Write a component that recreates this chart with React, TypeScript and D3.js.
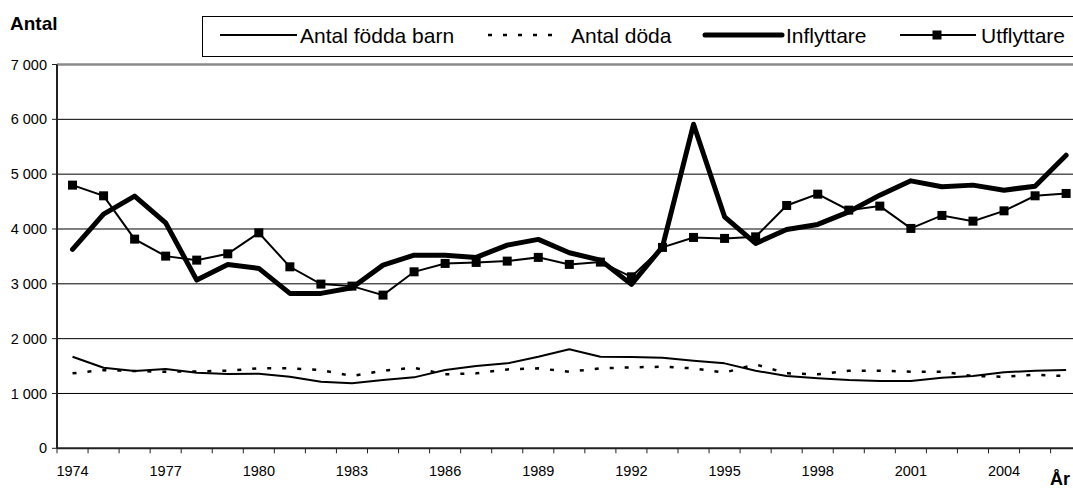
import React, { useEffect } from "react";
import * as d3 from "d3";

const years: number[] = d3.range(1974, 2007);
const tickYears: number[] = [1974, 1977, 1980, 1983, 1986, 1989, 1992, 1995, 1998, 2001, 2004];
const yTicks: number[] = [0, 1000, 2000, 3000, 4000, 5000, 6000, 7000];

const births: number[] = [
  1670, 1469, 1409, 1445, 1378, 1354, 1360, 1305, 1214, 1185, 1245, 1294, 1427, 1500, 1549, 1670,
  1805, 1670, 1664, 1652, 1597, 1549, 1415, 1318, 1276, 1245, 1227, 1227, 1287, 1318, 1385, 1415, 1427,
];
const deaths: number[] = [
  1367, 1427, 1409, 1397, 1403, 1415, 1458, 1458, 1427, 1318, 1415, 1469, 1349, 1367, 1439, 1458,
  1397, 1458, 1476, 1488, 1458, 1380, 1531, 1367, 1349, 1415, 1415, 1397, 1397, 1318, 1305, 1340, 1318,
];
const inflyttare: number[] = [
  3627, 4271, 4599, 4112, 3068, 3354, 3281, 2825, 2825, 2928, 3341, 3523, 3523, 3482, 3706, 3810,
  3566, 3432, 2990, 3675, 5910, 4222, 3737, 3992, 4083, 4313, 4617, 4878, 4769, 4800, 4708, 4781, 5346,
];
const utflyttare: number[] = [
  4800, 4605, 3815, 3505, 3432, 3547, 3930, 3310, 2995, 2958, 2794, 3219, 3372, 3390, 3414, 3482,
  3354, 3396, 3128, 3664, 3846, 3828, 3857, 4429, 4635, 4344, 4417, 4010, 4247, 4143, 4331, 4605, 4648,
];

const W = 1073;
const H = 490;
const left = 57;
const step = 31.05;
const right = left + step * years.length;
const top = 64.5;
const bottom = 448.3;

export default function App() {
  useEffect(() => {
    document.body.style.margin = "0";
  }, []);

  const x = d3.scaleLinear().domain([1973.5, 2006.5]).range([left, right]);
  const y = d3.scaleLinear().domain([0, 7000]).range([bottom, top]);
  const line = d3
    .line<number>()
    .x((_, i) => x(years[i]))
    .y((d) => y(d));

  const font = "'Liberation Sans', Arial, sans-serif";
  const boundaries = d3.range(0, years.length + 1).map((k) => left + k * step);

  return (
    <svg width={W} height={H} style={{ display: "block", position: "absolute", left: 0, top: 0 }} fontFamily={font}>
      <rect x={0} y={0} width={W} height={H} fill="#fff" />
      {/* gridlines */}
      {yTicks.filter((t) => t > 0 && t < 7000).map((t) => (
        <line key={t} x1={left} x2={right} y1={y(t)} y2={y(t)} stroke="#000" strokeWidth={1} />
      ))}
      <line x1={left} x2={right} y1={y(7000)} y2={y(7000)} stroke="#8a8a8a" strokeWidth={2.5} />
      {/* axes */}
      <line x1={left} x2={left} y1={y(7000)} y2={bottom} stroke="#222" strokeWidth={2} />
      <line x1={left} x2={right} y1={bottom} y2={bottom} stroke="#222" strokeWidth={2} />
      {yTicks.map((t) => (
        <g key={t}>
          <line x1={left - 5} x2={left} y1={y(t)} y2={y(t)} stroke="#222" strokeWidth={1} />
          <text x={47} y={y(t)} dy="0.35em" textAnchor="end" fontSize={14.5} fill="#000">
            {t === 0 ? "0" : d3.format(",")(t).replace(",", " ")}
          </text>
        </g>
      ))}
      {boundaries.map((b, i) => (
        <line key={i} x1={b} x2={b} y1={bottom} y2={bottom + 5} stroke="#222" strokeWidth={1} />
      ))}
      {tickYears.map((yr) => (
        <text key={yr} x={x(yr)} y={476} textAnchor="middle" fontSize={14.5} fill="#000">
          {yr}
        </text>
      ))}
      {/* series */}
      <path d={line(births) || ""} fill="none" stroke="#000" strokeWidth={2} strokeLinejoin="round" />
      <path d={line(deaths) || ""} fill="none" stroke="#000" strokeWidth={2.5} strokeDasharray="4 11" />
      <path d={line(inflyttare) || ""} fill="none" stroke="#000" strokeWidth={5} strokeLinejoin="round" strokeLinecap="round" />
      <path d={line(utflyttare) || ""} fill="none" stroke="#000" strokeWidth={2} />
      {utflyttare.map((v, i) => (
        <rect key={i} x={x(years[i]) - 4.5} y={y(v) - 4.5} width={9} height={9} fill="#000" />
      ))}
      {/* titles */}
      <text x={10} y={30} fontSize={19} fontWeight="bold" fill="#000">Antal</text>
      <text x={1050} y={485} fontSize={18} fontWeight="bold" fill="#000">År</text>
      {/* legend */}
      <rect x={202.5} y={16.5} width={1000} height={40} fill="#fff" stroke="#000" strokeWidth={1} />
      <line x1={220} x2={297} y1={35} y2={35} stroke="#000" strokeWidth={2} />
      <text x={300} y={43} fontSize={21} fill="#000">Antal födda barn</text>
      <line x1={488} x2={556} y1={35} y2={35} stroke="#000" strokeWidth={2.5} strokeDasharray="4 11" />
      <text x={571} y={43} fontSize={21} fill="#000">Antal döda</text>
      <line x1={705} x2={782} y1={35} y2={35} stroke="#000" strokeWidth={5} strokeLinecap="round" />
      <text x={786} y={43} fontSize={21} fill="#000">Inflyttare</text>
      <line x1={900} x2={976} y1={35} y2={35} stroke="#000" strokeWidth={2} />
      <rect x={937 - 4.5} y={35 - 4.5} width={9} height={9} fill="#000" />
      <text x={981} y={43} fontSize={21} fill="#000">Utflyttare</text>
    </svg>
  );
}
